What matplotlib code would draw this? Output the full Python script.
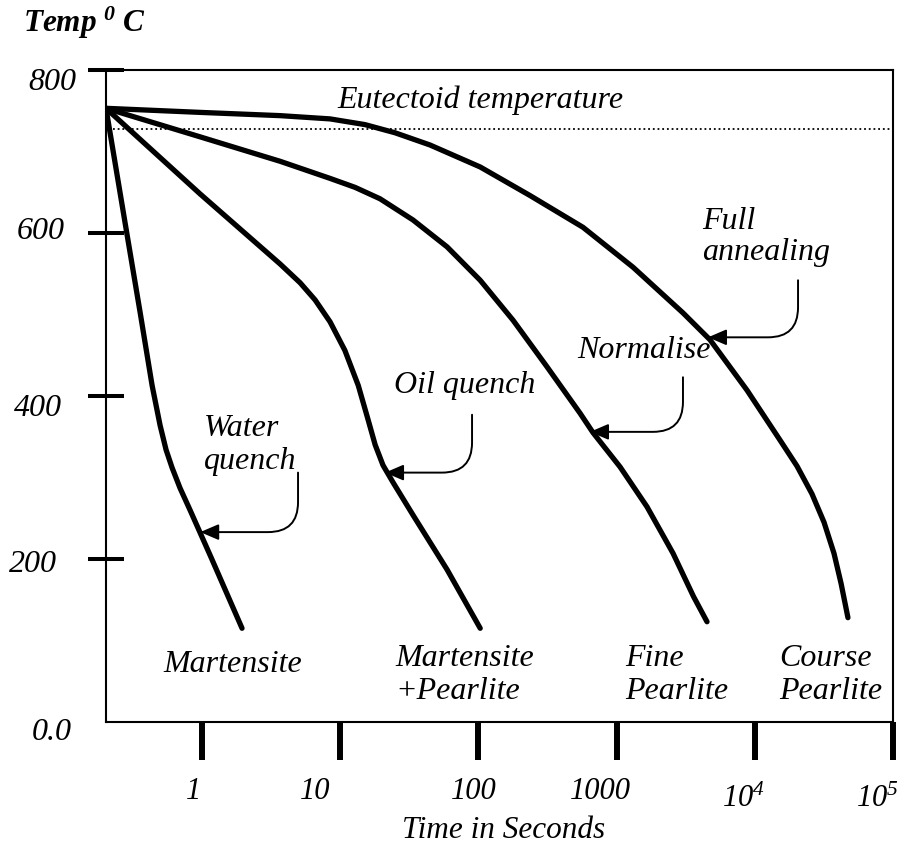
import numpy as np
import matplotlib
matplotlib.use("Agg")
import matplotlib.pyplot as plt
from matplotlib.transforms import ScaledTranslation

# cooling curves (time in s, temperature in C)
water_t = [0.2018, 0.277, 0.356, 0.435, 0.497, 0.549, 0.607, 0.693, 0.819, 1.162, 1.947]
water_T = [753, 613, 503, 413, 364, 334, 312, 287, 260, 202, 115]

oil_t = [0.2018, 0.967, 3.67, 5.12, 6.57, 8.44, 10.8, 13.5, 15.9, 17.9, 20.4, 24.1,
         33.6, 59.3, 103]
oil_T = [753, 648, 562, 539, 518, 491, 456, 413, 371, 340, 315, 294,
         254, 187, 115]

norm_t = [0.2018, 0.967, 3.67, 8.44, 12.8, 19.4, 33.6, 59.3, 103, 178, 313, 543, 675,
          1059, 1660, 2560, 3600, 4510]
norm_T = [753, 718, 688, 667, 656, 642, 616, 583, 542, 493, 436, 379, 355,
          313, 264, 207, 154, 123]

anneal_t = [0.2018, 0.967, 3.67, 8.44, 15.1, 24.9, 44.6, 103, 236, 571, 1315, 3021, 4740,
            8790, 15200, 20200, 25900, 31700, 37400, 42100, 47200]
anneal_T = [753, 748, 744, 740, 733, 723, 708, 681, 646, 607, 558, 502, 469,
            407, 346, 314, 280, 245, 207, 170, 128]

eutectoid_T = 727

x_ticks = [1, 10, 100, 1000, 1e4, 1e5]
x_labels = ['1', '10', '100', '1000', r'$10^4$', r'$10^5$']
y_ticks = [200, 400, 600, 800]
y_labels = ['200', '400', '600', '800']

plt.rcParams['font.family'] = ['Liberation Serif', 'DejaVu Serif']
plt.rcParams['font.style'] = 'italic'
plt.rcParams['mathtext.fontset'] = 'custom'
plt.rcParams['mathtext.rm'] = 'Liberation Serif:italic'
plt.rcParams['mathtext.it'] = 'Liberation Serif:italic'
plt.rcParams['mathtext.bf'] = 'Liberation Serif:bold:italic'

W, H = 903, 844
fig = plt.figure(figsize=(W / 100, H / 100), dpi=100)
ax = fig.add_axes([106 / W, 1 - 722 / H, (893 - 106) / W, (722 - 70) / H])


def px(x, y):
    # pixel position -> figure fraction
    return x / W, 1 - y / H


ax.set_xscale('log')
ax.set_xlim(0.2018, 1e5)
ax.set_ylim(0, 800)

for t, T in [(water_t, water_T), (oil_t, oil_T), (norm_t, norm_T), (anneal_t, anneal_T)]:
    ax.plot(t, T, color='black', lw=3.8, solid_capstyle='round', solid_joinstyle='round')

ax.plot([0.227, 1e5], [eutectoid_T, eutectoid_T], color='black', lw=1.3,
        linestyle=(0, (1, 1.6)))

for s in ax.spines.values():
    s.set_linewidth(1.5)

ax.set_xticks(x_ticks, labels=x_labels)
ax.minorticks_off()
ax.tick_params(axis='x', direction='out', length=27.4, width=4.3, pad=12, labelsize=22)
ax.set_yticks(y_ticks, labels=y_labels)
ax.tick_params(axis='y', direction='inout', length=26.6, width=2.9, pad=12, labelsize=23)

# hand-placed look of the tick labels (pixel nudges)
x_nudge = [(-9, 0), (-25, 0), (-5, 0), (-16, 0), (-11, -8), (-16, -8)]
for lab, (dx, dy) in zip(ax.get_xticklabels(), x_nudge):
    lab.set_transform(lab.get_transform() + ScaledTranslation(dx / 100, dy / 100, fig.dpi_scale_trans))
y_nudge = [(-14, -2), (-9, -9), (-6, 5), (5, -9)]
for lab, (dx, dy) in zip(ax.get_yticklabels(), y_nudge):
    lab.set_transform(lab.get_transform() + ScaledTranslation(dx / 100, dy / 100, fig.dpi_scale_trans))

fig.text(*px(72, 733), '0.0', fontsize=23, ha='right', va='center')
fig.text(*px(23, 23), r'$\mathbf{Temp\ }^{\mathbf{0}}\mathbf{\ C}$', fontsize=22.5,
         ha='left', va='center')
fig.text(*px(504, 831), 'Time in Seconds', fontsize=22.5, ha='center', va='center')

fs = 23
ls = 1.2
fig.text(*px(480, 100), 'Eutectoid temperature', fontsize=fs, ha='center', va='center')
fig.text(*px(204, 445), 'Water\nquench', fontsize=fs, ha='left', va='center', linespacing=ls)
fig.text(*px(465, 386), 'Oil quench', fontsize=fs, ha='center', va='center')
fig.text(*px(577, 350), 'Normalise', fontsize=fs, ha='left', va='center')
fig.text(*px(702, 237), 'Full\nannealing', fontsize=fs, ha='left', va='center', linespacing=1.1)
fig.text(*px(163, 665), 'Martensite', fontsize=fs, ha='left', va='center')
fig.text(*px(395, 675), 'Martensite\n+Pearlite', fontsize=fs, ha='left', va='center', linespacing=ls)
fig.text(*px(625, 675), 'Fine\nPearlite', fontsize=fs, ha='left', va='center', linespacing=ls)
fig.text(*px(779, 675), 'Course\nPearlite', fontsize=fs, ha='left', va='center', linespacing=ls)

# curved pointer arrows: (tail, tip) in data units
arrows = [((4.95, 306), (0.97, 233)),
          ((89.9, 377), (21.1, 306)),
          ((3021, 423), (642, 356)),
          ((20550, 542), (4585, 472))]
for tail, tip in arrows:
    ax.annotate('', xy=tip, xytext=tail,
                arrowprops=dict(arrowstyle='-|>,head_length=0.7,head_width=0.3',
                                connectionstyle='angle,angleA=90,angleB=0,rad=30',
                                color='black', lw=1.4, mutation_scale=16,
                                shrinkA=0, shrinkB=0))

fig.savefig('out.png', dpi=100)
